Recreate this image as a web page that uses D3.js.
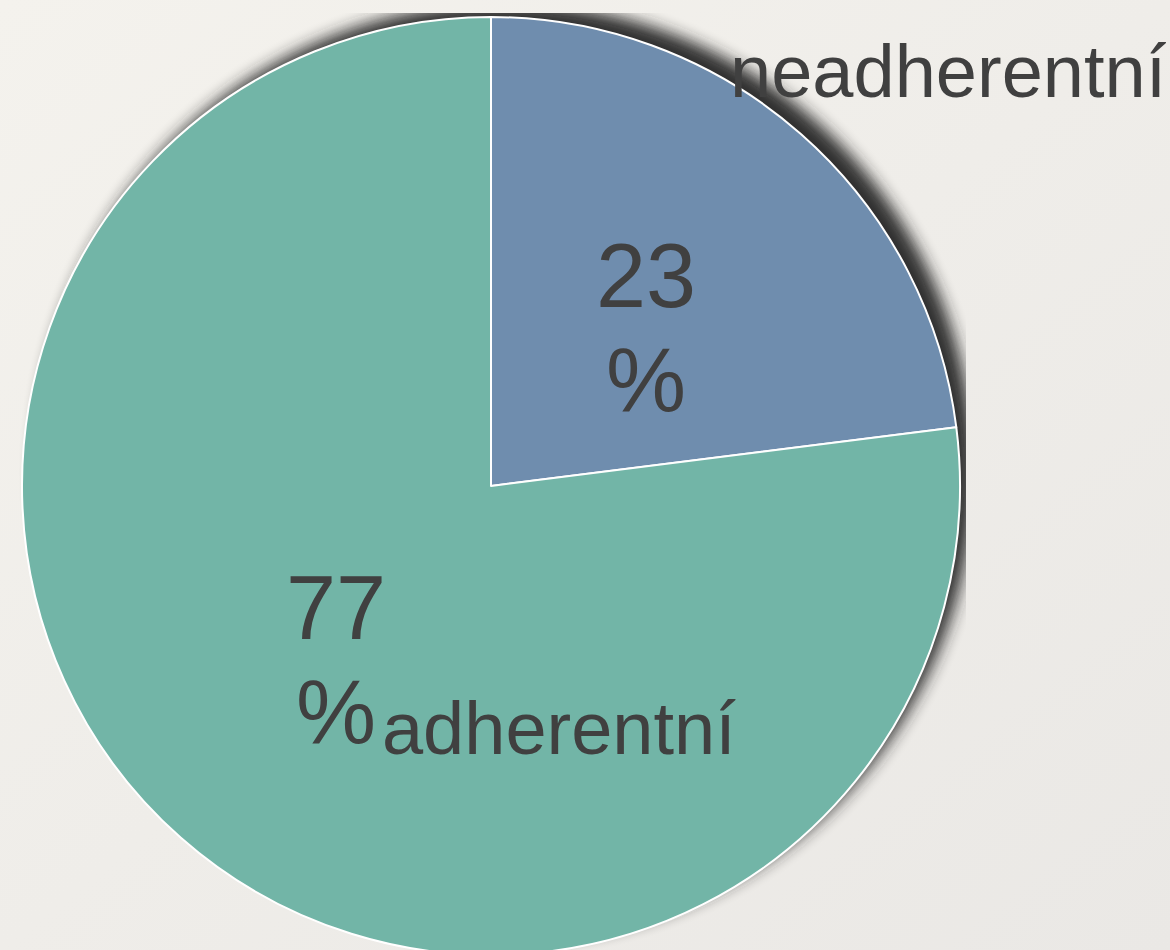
<!DOCTYPE html>
<html>
<head>
<meta charset="utf-8">
<script src="https://cdn.jsdelivr.net/npm/d3@7"></script>
<style>
  html, body { margin: 0; padding: 0; }
  body { width: 1170px; height: 950px; overflow: hidden; }
  svg { display: block; }
  text { font-family: "Liberation Sans", Arial, sans-serif; fill: #404040; }
</style>
</head>
<body>
<svg id="chart" width="1170" height="950"></svg>
<script>
const categories = ["neadherentní", "adherentní"];
const values = [23, 77];
const valueLabels = ["23", "77"];
const colors = ["#6f8dae", "#72b5a7"];

const W = 1170, H = 950;
const cx = 491, cy = 486, R = 469;

const svg = d3.select("#chart");
const defs = svg.append("defs");

const bg = defs.append("linearGradient").attr("id", "bg")
  .attr("x1", 0).attr("y1", 0).attr("x2", 1).attr("y2", 1);
bg.append("stop").attr("offset", "0%").attr("stop-color", "#f4f2ed");
bg.append("stop").attr("offset", "100%").attr("stop-color", "#eae8e5");

const blur = defs.append("filter").attr("id", "blur")
  .attr("x", "-20%").attr("y", "-20%").attr("width", "140%").attr("height", "140%");
blur.append("feGaussianBlur").attr("stdDeviation", 8);

defs.append("clipPath").attr("id", "shadowClip")
  .append("rect").attr("x", 0).attr("y", 13).attr("width", 966).attr("height", H);

svg.append("rect").attr("width", W).attr("height", H).attr("fill", "url(#bg)");

// shadow
svg.append("g").attr("clip-path", "url(#shadowClip)")
  .append("circle")
  .attr("cx", cx + 14).attr("cy", cy - 14).attr("r", R)
  .attr("fill", "#262626").attr("opacity", 0.95)
  .attr("filter", "url(#blur)");

const pie = d3.pie().sort(null).value(d => d)(values);
const arc = d3.arc().innerRadius(0).outerRadius(R);
const labelArc = d3.arc().innerRadius(R * 0.5).outerRadius(R * 0.5);

const g = svg.append("g").attr("transform", `translate(${cx},${cy})`);

g.selectAll("path.slice").data(pie).join("path")
  .attr("class", "slice")
  .attr("d", arc)
  .attr("fill", (d, i) => colors[i])
  .attr("stroke", "#ffffff")
  .attr("stroke-width", 2)
  .attr("stroke-linejoin", "round");

// value labels (wrapped: number, then %)
const firstDy = [-3, -23];
const vl = g.selectAll("text.val").data(pie).join("text")
  .attr("class", "val")
  .attr("text-anchor", "middle")
  .attr("font-size", 90)
  .attr("transform", d => {
    const [x, y] = labelArc.centroid(d);
    return `translate(${x},${y})`;
  });
vl.append("tspan").attr("x", 0).attr("dy", (d, i) => firstDy[i]).text((d, i) => valueLabels[i]);
vl.append("tspan").attr("x", 0).attr("dy", 104).text("%");

// category labels
const catOffsets = [[84, -213], [46, 92]];
g.selectAll("text.cat").data(pie).join("text")
  .attr("class", "cat")
  .attr("font-size", 74)
  .attr("text-anchor", "start")
  .attr("x", (d, i) => labelArc.centroid(d)[0] + catOffsets[i][0])
  .attr("y", (d, i) => labelArc.centroid(d)[1] + catOffsets[i][1])
  .text((d, i) => categories[i]);
</script>
</body>
</html>
